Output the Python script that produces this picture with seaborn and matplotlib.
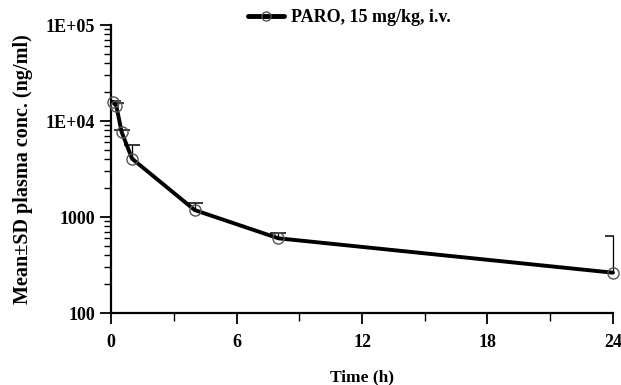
import numpy as np
import pandas as pd
import matplotlib
matplotlib.use("Agg")
import matplotlib.pyplot as plt
import matplotlib.ticker as mticker
import seaborn as sns

# data
time_h = [0.083, 0.25, 0.5, 1, 4, 8, 24]
mean_conc = [15800, 14300, 7700, 4050, 1180, 600, 263]
upper_sd = [16200, 15300, 8100, 5600, 1390, 676, 640]
series_label = "PARO, 15 mg/kg, i.v."

sns.set_style("ticks")
plt.rcParams["font.family"] = ["Liberation Serif", "DejaVu Serif"]
plt.rcParams["font.weight"] = "bold"
for k in ["text.color", "axes.labelcolor", "xtick.color", "ytick.color", "axes.edgecolor"]:
    plt.rcParams[k] = "black"

df = pd.DataFrame({"time": time_h, "conc": mean_conc})

fig = plt.figure(figsize=(6.21, 3.85), dpi=100)
ax = fig.add_axes([0.179, 0.187, 0.808, 0.748])

# one-sided SD bars (upper only): stem + cap
ax.vlines(time_h, mean_conc, upper_sd, colors="black", lw=0.9,
          zorder=2, clip_on=False)
ax.plot(time_h, upper_sd, ls="none", marker="_", markersize=12,
        markeredgewidth=1.1, color="black", zorder=2)

sns.lineplot(data=df, x="time", y="conc", ax=ax, color="black", lw=2.8,
             marker="o", markersize=8, markerfacecolor="none",
             markeredgecolor="#555555", markeredgewidth=1.0,
             label=series_label, zorder=3, clip_on=False)

ax.set_yscale("log")
ax.set_ylim(100, 1e5)
ax.set_xlim(0, 24)
ax.set_xticks([0, 6, 12, 18, 24])
ax.xaxis.set_minor_locator(mticker.MultipleLocator(3))
ax.set_yticks([100, 1000, 1e4, 1e5])
ax.set_yticklabels(["100", "1000", "1E+04", "1E+05"])
ax.yaxis.set_minor_locator(mticker.LogLocator(base=10, subs=np.arange(2, 10)))
ax.yaxis.set_minor_formatter(mticker.NullFormatter())

ax.tick_params(axis="both", which="major", length=8, width=1.3,
               labelsize=13, direction="out")
ax.tick_params(axis="y", which="minor", length=5, width=1.0)
ax.tick_params(axis="x", which="minor", length=6, width=1.0)
ax.tick_params(axis="x", pad=7)
for lab in ax.get_xticklabels() + ax.get_yticklabels():
    lab.set_fontweight("bold")

sns.despine(ax=ax)
ax.spines["left"].set_linewidth(1.6)
ax.spines["bottom"].set_linewidth(1.6)

ax.set_xlabel("Time (h)", fontsize=12.5, fontweight="bold")
ax.set_ylabel("Mean±SD plasma conc. (ng/ml)", fontsize=14.5,
              fontweight="bold")
ax.xaxis.set_label_coords(0.5, -0.195)
ax.yaxis.set_label_coords(-0.155, 0.5)

leg = ax.legend(loc="center", bbox_to_anchor=(0.475, 1.025), frameon=False,
                fontsize=13, handlelength=2.0, handletextpad=0.4,
                borderaxespad=0)
for t in leg.get_texts():
    t.set_fontweight("bold")
for h in leg.legend_handles:
    h.set_linewidth(3.5)
    h.set_markersize(6.5)

fig.savefig("out.png", dpi=100)
